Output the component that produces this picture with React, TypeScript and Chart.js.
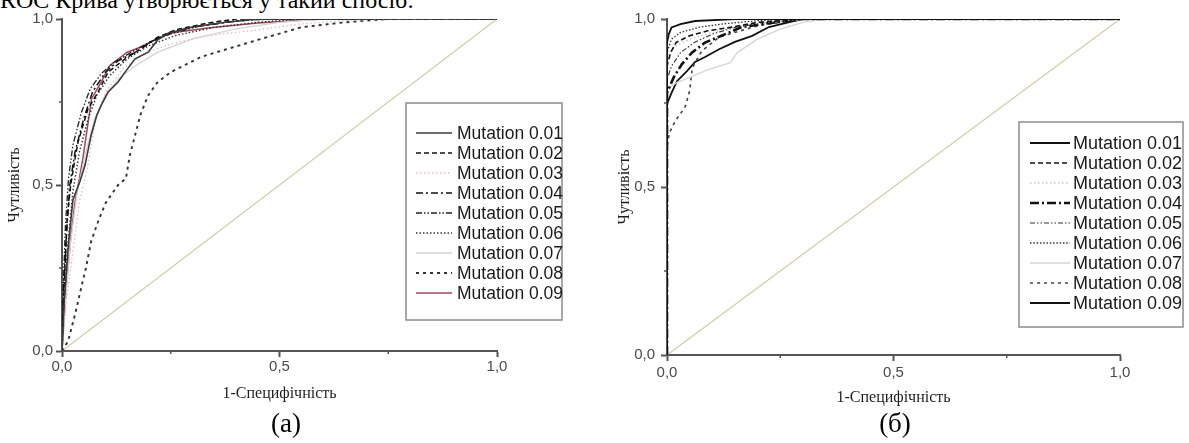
import React, { useEffect, useRef } from 'react';
import { Chart, registerables } from 'chart.js';

Chart.register(...registerables);

type Pt = [number, number];

// ---------- text ----------
const headingText = 'ROC Крива утворюється у такий спосіб:';
const captions = ['(а)', '(б)'];
const xAxisTitle = '1-Специфічність';
const yAxisTitle = 'Чутливість';
const seriesLabels = [
  'Mutation 0.01', 'Mutation 0.02', 'Mutation 0.03', 'Mutation 0.04', 'Mutation 0.05',
  'Mutation 0.06', 'Mutation 0.07', 'Mutation 0.08', 'Mutation 0.09',
];
const axisTickValues = [0, 0.25, 0.5, 0.75, 1];
const axisTickLabels = ['0,0', '', '0,5', '', '1,0'];

// ---------- data: chart (а) ----------
const chanceLine: Pt[] = [[0, 0], [1, 1]];

const rocA01: Pt[] = [[0, 0], [0.005, 0.15], [0.014, 0.31], [0.025, 0.455], [0.041, 0.51], [0.053, 0.56], [0.067, 0.65], [0.08, 0.71], [0.09, 0.74], [0.106, 0.78], [0.129, 0.81], [0.145, 0.84], [0.168, 0.88], [0.198, 0.9], [0.22, 0.937], [0.244, 0.957], [0.3, 0.976], [0.375, 0.99], [0.45, 1], [1, 1]];
const rocA02: Pt[] = [[0, 0], [0.005, 0.2], [0.012, 0.4], [0.02, 0.5], [0.03, 0.58], [0.037, 0.63], [0.06, 0.73], [0.083, 0.78], [0.106, 0.84], [0.145, 0.88], [0.18, 0.91], [0.22, 0.945], [0.26, 0.967], [0.335, 0.988], [0.4, 1], [1, 1]];
const rocA03: Pt[] = [[0, 0], [0.01, 0.15], [0.025, 0.3], [0.04, 0.45], [0.06, 0.56], [0.076, 0.69], [0.1, 0.78], [0.14, 0.85], [0.195, 0.9], [0.25, 0.925], [0.335, 0.95], [0.45, 0.967], [0.547, 0.985], [0.65, 0.995], [0.75, 1], [1, 1]];
const rocA04: Pt[] = [[0, 0], [0.004, 0.2], [0.01, 0.35], [0.018, 0.5], [0.03, 0.6], [0.05, 0.7], [0.07, 0.78], [0.1, 0.84], [0.13, 0.875], [0.17, 0.9], [0.21, 0.935], [0.25, 0.96], [0.3, 0.975], [0.38, 0.99], [0.45, 1], [1, 1]];
const rocA05: Pt[] = [[0, 0], [0.003, 0.2], [0.008, 0.38], [0.015, 0.52], [0.025, 0.62], [0.045, 0.72], [0.065, 0.79], [0.09, 0.835], [0.12, 0.87], [0.16, 0.9], [0.2, 0.93], [0.25, 0.955], [0.32, 0.98], [0.4, 0.995], [0.5, 1], [1, 1]];
const rocA06: Pt[] = [[0, 0], [0.005, 0.15], [0.012, 0.3], [0.025, 0.48], [0.04, 0.6], [0.06, 0.7], [0.08, 0.77], [0.11, 0.83], [0.15, 0.88], [0.2, 0.92], [0.26, 0.95], [0.35, 0.975], [0.45, 0.99], [0.55, 1], [1, 1]];
const rocA07: Pt[] = [[0, 0], [0.008, 0.15], [0.02, 0.33], [0.035, 0.48], [0.055, 0.6], [0.075, 0.7], [0.1, 0.77], [0.13, 0.82], [0.17, 0.86], [0.22, 0.9], [0.3, 0.94], [0.4, 0.97], [0.5, 0.99], [0.6, 1], [1, 1]];
const rocA08: Pt[] = [[0, 0], [0.014, 0.03], [0.02, 0.06], [0.03, 0.11], [0.044, 0.19], [0.055, 0.25], [0.067, 0.33], [0.083, 0.39], [0.1, 0.445], [0.113, 0.47], [0.129, 0.5], [0.147, 0.52], [0.156, 0.59], [0.17, 0.66], [0.18, 0.71], [0.198, 0.77], [0.22, 0.81], [0.25, 0.84], [0.32, 0.886], [0.45, 0.937], [0.55, 0.975], [0.65, 0.99], [0.75, 1], [1, 1]];
const rocA09: Pt[] = [[0, 0], [0.004, 0.08], [0.01, 0.2], [0.02, 0.34], [0.03, 0.45], [0.04, 0.52], [0.048, 0.58], [0.058, 0.67], [0.068, 0.76], [0.09, 0.81], [0.11, 0.86], [0.15, 0.9], [0.18, 0.915], [0.214, 0.937], [0.25, 0.958], [0.335, 0.973], [0.45, 0.988], [0.6, 1], [1, 1]];

// ---------- data: chart (б) ----------
const rocB01: Pt[] = [[0, 0], [0, 0.93], [0.004, 0.955], [0.01, 0.975], [0.03, 0.985], [0.062, 0.994], [0.15, 1], [1, 1]];
const rocB02: Pt[] = [[0, 0], [0, 0.86], [0.008, 0.9], [0.02, 0.93], [0.05, 0.95], [0.09, 0.965], [0.14, 0.975], [0.2, 0.99], [0.3, 1], [1, 1]];
const rocB03: Pt[] = [[0, 0], [0, 0.88], [0.004, 0.9], [0.02, 0.92], [0.05, 0.94], [0.1, 0.96], [0.16, 0.98], [0.25, 0.995], [0.35, 1], [1, 1]];
const rocB04: Pt[] = [[0, 0], [0, 0.78], [0.015, 0.827], [0.033, 0.866], [0.055, 0.9], [0.084, 0.93], [0.12, 0.95], [0.165, 0.976], [0.21, 0.985], [0.3, 1], [1, 1]];
const rocB05: Pt[] = [[0, 0], [0, 0.82], [0.01, 0.86], [0.03, 0.9], [0.06, 0.93], [0.1, 0.955], [0.15, 0.975], [0.22, 0.99], [0.3, 1], [1, 1]];
const rocB06: Pt[] = [[0, 0], [0, 0.9], [0.01, 0.94], [0.03, 0.96], [0.07, 0.975], [0.12, 0.985], [0.2, 0.995], [0.28, 1], [1, 1]];
const rocB07: Pt[] = [[0, 0], [0, 0.79], [0.02, 0.81], [0.057, 0.83], [0.088, 0.848], [0.14, 0.87], [0.155, 0.9], [0.2, 0.94], [0.25, 0.97], [0.3, 0.99], [0.35, 1], [1, 1]];
const rocB08: Pt[] = [[0, 0], [0, 0.62], [0.005, 0.66], [0.018, 0.696], [0.04, 0.738], [0.05, 0.786], [0.055, 0.845], [0.06, 0.866], [0.077, 0.905], [0.115, 0.946], [0.2, 0.98], [0.3, 1], [1, 1]];
const rocB09: Pt[] = [[0, 0], [0, 0.747], [0.01, 0.78], [0.022, 0.815], [0.044, 0.845], [0.062, 0.872], [0.084, 0.887], [0.115, 0.91], [0.15, 0.932], [0.188, 0.95], [0.225, 0.976], [0.27, 0.991], [0.3, 1], [1, 1]];

const seriesA = [rocA01, rocA02, rocA03, rocA04, rocA05, rocA06, rocA07, rocA08, rocA09];
const seriesB = [rocB01, rocB02, rocB03, rocB04, rocB05, rocB06, rocB07, rocB08, rocB09];

// ---------- styles ----------
type LineStyle = { color: string; width: number; dash: number[] };
const stylesA: LineStyle[] = [
  { color: '#3a3a3a', width: 1.6, dash: [] },
  { color: '#111111', width: 1.5, dash: [5, 3] },
  { color: '#e2b9c2', width: 1.3, dash: [1.5, 2.5] },
  { color: '#111111', width: 1.5, dash: [7, 3, 2, 3] },
  { color: '#222222', width: 1.3, dash: [6, 2, 1.5, 2, 1.5, 2] },
  { color: '#333333', width: 1.4, dash: [1.5, 2] },
  { color: '#d4d4d4', width: 1.3, dash: [] },
  { color: '#333333', width: 1.9, dash: [3, 4] },
  { color: '#a2465a', width: 1.5, dash: [] },
];
const stylesB: LineStyle[] = [
  { color: '#111111', width: 1.8, dash: [] },
  { color: '#111111', width: 1.6, dash: [5, 3] },
  { color: '#c4c4c4', width: 1.3, dash: [1.5, 2.5] },
  { color: '#111111', width: 2.6, dash: [9, 3, 2, 3] },
  { color: '#333333', width: 1.1, dash: [5, 2, 1.5, 2, 1.5, 2] },
  { color: '#333333', width: 1.3, dash: [1.5, 1.8] },
  { color: '#d6d6d6', width: 1.4, dash: [] },
  { color: '#444444', width: 1.6, dash: [3, 4] },
  { color: '#111111', width: 1.8, dash: [] },
];
const chanceStyle: LineStyle = { color: '#cdcdaa', width: 1.2, dash: [] };

type Geo = {
  left: number; w: number; h: number; padRight: number; padTop: number;
  yAxisW: number; xAxisH: number; yTitlePad: number; xTitlePad: number;
  xTickPad: number; yTickPad: number;
  legend: { box: { left: number; top: number; right: number; bottom: number }; sampleX: number[]; textX: number; firstY: number; step: number; font: string };
};

const geoA: Geo = {
  left: 0, w: 600, h: 410, padRight: 103, padTop: 19, yAxisW: 62, xAxisH: 59,
  yTitlePad: 5.4, xTitlePad: 6.4, xTickPad: 1.2, yTickPad: 3,
  legend: { box: { left: 406, top: 103, right: 562, bottom: 320 }, sampleX: [416, 452], textX: 457, firstY: 133, step: 20, font: '17.5px "Liberation Sans", Arial, sans-serif' },
};
const geoB: Geo = {
  left: 600, w: 589, h: 410, padRight: 69, padTop: 19, yAxisW: 67, xAxisH: 55,
  yTitlePad: 15.4, xTitlePad: 2.4, xTickPad: 3.2, yTickPad: 6,
  legend: { box: { left: 419, top: 122, right: 583, bottom: 327 }, sampleX: [430, 470], textX: 473, firstY: 143, step: 20, font: '18px "Liberation Sans", Arial, sans-serif' },
};

const AXIS_COLOR = '#555555';
const TICK_TEXT = '#4a4a4a';

const legendBoxPlugin = {
  id: 'legendBox',
  afterDraw(chart: any, _args: any, opts: any) {
    const { ctx } = chart;
    const box = opts.box;
    const sx = opts.sampleX;
    ctx.save();
    ctx.fillStyle = '#ffffff';
    ctx.fillRect(box.left, box.top, box.right - box.left, box.bottom - box.top);
    ctx.strokeStyle = '#8c8c8c';
    ctx.lineWidth = 1.5;
    ctx.strokeRect(box.left, box.top, box.right - box.left, box.bottom - box.top);
    const n = opts.count;
    for (let i = 0; i < n; i++) {
      const ds = chart.data.datasets[i];
      const y = opts.firstY + i * opts.step;
      ctx.beginPath();
      ctx.setLineDash(ds.borderDash || []);
      ctx.strokeStyle = ds.borderColor;
      ctx.lineWidth = ds.borderWidth;
      ctx.moveTo(sx[0], y);
      ctx.lineTo(sx[1], y);
      ctx.stroke();
      ctx.setLineDash([]);
      ctx.fillStyle = '#1a1a1a';
      ctx.font = opts.font;
      ctx.textBaseline = 'middle';
      ctx.textAlign = 'left';
      ctx.fillText(ds.label, opts.textX, y + 1);
    }
    ctx.restore();
  },
};

const minorTickPlugin = {
  id: 'minorTicks',
  afterDraw(chart: any) {
    const { ctx, chartArea, scales } = chart;
    ctx.save();
    ctx.strokeStyle = AXIS_COLOR;
    ctx.lineWidth = 1.5;
    [0.25, 0.75].forEach((v) => {
      const px = scales.x.getPixelForValue(v);
      ctx.beginPath();
      ctx.moveTo(px, chartArea.bottom);
      ctx.lineTo(px, chartArea.bottom + 3);
      ctx.stroke();
      const py = scales.y.getPixelForValue(v);
      ctx.beginPath();
      ctx.moveTo(chartArea.left, py);
      ctx.lineTo(chartArea.left - 3, py);
      ctx.stroke();
    });
    ctx.restore();
  },
};

function buildConfig(series: Pt[][], styles: LineStyle[], geo: Geo): any {
  const datasets: any[] = series.map((pts, i) => ({
    label: seriesLabels[i],
    data: pts.map(([x, y]) => ({ x, y })),
    borderColor: styles[i].color,
    borderWidth: styles[i].width,
    borderDash: styles[i].dash,
    pointRadius: 0,
    pointHoverRadius: 0,
    tension: 0,
    fill: false,
  }));
  datasets.push({
    label: 'chance',
    data: chanceLine.map(([x, y]) => ({ x, y })),
    borderColor: chanceStyle.color,
    borderWidth: chanceStyle.width,
    borderDash: chanceStyle.dash,
    pointRadius: 0,
    tension: 0,
    fill: false,
  });

  const tickFont = { family: '"Liberation Sans", Arial, sans-serif', size: 15 };
  const titleFont = { family: '"Liberation Serif", "Times New Roman", serif', size: 16, lineHeight: 1.2 };
  const setTicks = (s: any) => { s.ticks = axisTickValues.map((v) => ({ value: v })); };
  const tickLabel = (v: any) => {
    const i = axisTickValues.indexOf(Number(v));
    return i >= 0 ? axisTickLabels[i] : '';
  };
  const tickColor = (c: any) => (c.tick && (c.tick.value === 0.25 || c.tick.value === 0.75) ? 'rgba(0,0,0,0)' : AXIS_COLOR);

  return {
    type: 'line',
    data: { datasets },
    plugins: [legendBoxPlugin, minorTickPlugin],
    options: {
      animation: false,
      responsive: false,
      maintainAspectRatio: false,
      events: [],
      layout: { padding: { left: 0, top: geo.padTop, right: geo.padRight, bottom: 0 } },
      plugins: {
        legend: { display: false },
        tooltip: { enabled: false },
        title: { display: false },
        legendBox: { ...geo.legend, count: seriesLabels.length },
      },
      scales: {
        x: {
          type: 'linear',
          min: 0,
          max: 1,
          afterBuildTicks: setTicks,
          afterFit: (s: any) => { s.height = geo.xAxisH; },
          border: { display: true, color: AXIS_COLOR, width: 2 },
          grid: { display: true, drawOnChartArea: false, drawTicks: true, tickLength: 6, tickWidth: 2, tickColor },
          ticks: { autoSkip: false, maxRotation: 0, color: TICK_TEXT, font: tickFont, padding: geo.xTickPad, callback: tickLabel },
          title: { display: true, text: xAxisTitle, color: '#1e1e1e', font: titleFont, padding: { top: 0, bottom: geo.xTitlePad } },
        },
        y: {
          type: 'linear',
          min: 0,
          max: 1,
          afterBuildTicks: setTicks,
          afterFit: (s: any) => { s.width = geo.yAxisW; },
          border: { display: true, color: AXIS_COLOR, width: 2 },
          grid: { display: true, drawOnChartArea: false, drawTicks: true, tickLength: 6, tickWidth: 2, tickColor },
          ticks: { autoSkip: false, color: TICK_TEXT, font: tickFont, padding: geo.yTickPad, callback: tickLabel },
          title: { display: true, text: yAxisTitle, color: '#1e1e1e', font: titleFont, padding: { top: geo.yTitlePad, bottom: 0 } },
        },
      },
    },
  };
}

function RocChart({ series, styles, geo }: { series: Pt[][]; styles: LineStyle[]; geo: Geo }) {
  const ref = useRef<HTMLCanvasElement>(null);
  useEffect(() => {
    if (!ref.current) return;
    const chart = new Chart(ref.current, buildConfig(series, styles, geo));
    return () => chart.destroy();
  }, [series, styles, geo]);
  return (
    <canvas
      ref={ref}
      width={geo.w}
      height={geo.h}
      style={{ position: 'absolute', left: geo.left, top: 0, width: geo.w, height: geo.h }}
    />
  );
}

const serif = '"Liberation Serif", "Times New Roman", serif';

export default function App() {
  return (
    <div style={{ position: 'fixed', left: 0, top: 0, width: 1189, height: 443, background: '#ffffff', overflow: 'hidden' }}>
      <div style={{ position: 'absolute', left: 0, top: -12, fontFamily: serif, fontSize: 24, lineHeight: '24px', whiteSpace: 'nowrap', color: '#000' }}>
        {headingText}
      </div>
      <RocChart series={seriesA} styles={stylesA} geo={geoA} />
      <RocChart series={seriesB} styles={stylesB} geo={geoB} />
      <div style={{ position: 'absolute', left: 236, width: 100, top: 410, textAlign: 'center', fontFamily: serif, fontSize: 27, lineHeight: '27px', color: '#000' }}>
        {captions[0]}
      </div>
      <div style={{ position: 'absolute', left: 845, width: 100, top: 410, textAlign: 'center', fontFamily: serif, fontSize: 27, lineHeight: '27px', color: '#000' }}>
        {captions[1]}
      </div>
    </div>
  );
}
